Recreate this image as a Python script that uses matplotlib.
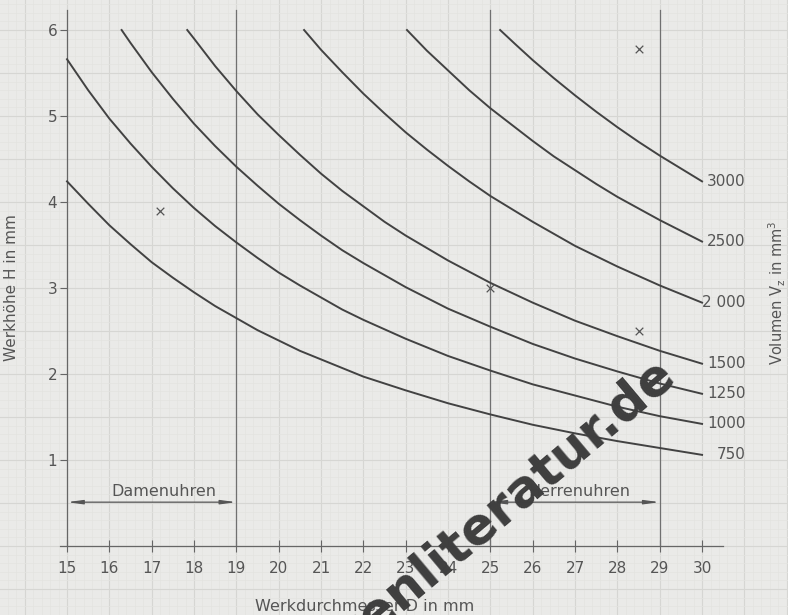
import numpy as np
import matplotlib.pyplot as plt

# ----------------------------
# Data
# ----------------------------
volumes = ["750", "1000", "1250", "1500", "2 000", "2500", "3000"]

d_750 = [15, 15.5, 16, 16.5, 17, 17.5, 18, 18.5, 19, 19.5, 20, 20.5, 21, 21.5, 22, 23, 24, 25, 26, 27, 28, 29, 30]
h_750 = [4.24, 3.98, 3.73, 3.51, 3.30, 3.12, 2.95, 2.79, 2.65, 2.51, 2.39, 2.27, 2.17, 2.07, 1.97,
         1.81, 1.66, 1.53, 1.41, 1.31, 1.22, 1.14, 1.06]

d_1000 = [15, 15.5, 16, 16.5, 17, 17.5, 18, 18.5, 19, 19.5, 20, 20.5, 21, 21.5, 22, 23, 24, 25, 26, 27, 28, 29, 30]
h_1000 = [5.66, 5.30, 4.97, 4.68, 4.41, 4.16, 3.93, 3.72, 3.53, 3.35, 3.18, 3.03, 2.89, 2.75, 2.63,
          2.41, 2.21, 2.04, 1.88, 1.75, 1.62, 1.51, 1.42]

d_1250 = [16.29, 16.5, 17, 17.5, 18, 18.5, 19, 19.5, 20, 20.5, 21, 21.5, 22, 23, 24, 25, 26, 27, 28, 29, 30]
h_1250 = [6.0, 5.85, 5.51, 5.20, 4.91, 4.65, 4.41, 4.19, 3.98, 3.79, 3.61, 3.44, 3.29,
          3.01, 2.76, 2.55, 2.35, 2.18, 2.03, 1.89, 1.77]

d_1500 = [17.84, 18, 18.5, 19, 19.5, 20, 20.5, 21, 21.5, 22, 22.5, 23, 24, 25, 26, 27, 28, 29, 30]
h_1500 = [6.0, 5.90, 5.58, 5.29, 5.02, 4.78, 4.55, 4.33, 4.13, 3.95, 3.77, 3.61,
          3.32, 3.06, 2.83, 2.62, 2.44, 2.27, 2.12]

d_2000 = [20.6, 21, 21.5, 22, 22.5, 23, 23.5, 24, 24.5, 25, 25.5, 26, 27, 28, 29, 30]
h_2000 = [6.0, 5.77, 5.51, 5.26, 5.03, 4.81, 4.61, 4.42, 4.24, 4.07, 3.92, 3.77, 3.49, 3.25, 3.03, 2.83]

d_2500 = [23.03, 23.5, 24, 24.5, 25, 25.5, 26, 26.5, 27, 27.5, 28, 29, 30]
h_2500 = [6.0, 5.76, 5.53, 5.30, 5.09, 4.90, 4.71, 4.53, 4.37, 4.21, 4.06, 3.79, 3.54]

d_3000 = [25.23, 25.6, 26, 26.5, 27, 27.5, 28, 28.5, 29, 29.5, 30]
h_3000 = [6.0, 5.83, 5.65, 5.44, 5.24, 5.05, 4.87, 4.70, 4.54, 4.39, 4.24]

curves = [(d_750, h_750), (d_1000, h_1000), (d_1250, h_1250), (d_1500, h_1500),
          (d_2000, h_2000), (d_2500, h_2500), (d_3000, h_3000)]

# measured samples (crosses)
cross_d = [17.2, 25.0, 28.5, 28.5]
cross_h = [3.9, 3.0, 2.5, 5.78]

x_ticks = list(range(15, 31))
y_ticks = [1, 2, 3, 4, 5, 6]
boundaries = [19, 25, 29]

ink = "#424242"
txt = "#555555"
paper = "#eaeae8"

# ----------------------------
# Figure: axes fill the whole sheet (graph paper)
# ----------------------------
fig = plt.figure(figsize=(7.88, 6.15), dpi=100)
fig.patch.set_facecolor(paper)
ax = fig.add_axes([0, 0, 1, 1])
ax.set_facecolor(paper)

ax.set_xlim(13.417, 32.03)
ax.set_ylim(-0.802, 6.349)

# graph paper
for gx in np.arange(13.4, 32.1, 0.2):
    major = abs(gx - round(gx)) < 1e-6
    ax.axvline(gx, color="#d6d6d3" if major else "#e3e3e0", lw=0.8 if major else 0.5, zorder=0)
for gy in np.arange(-0.8, 6.4, 0.1):
    major = abs(gy * 2 - round(gy * 2)) < 1e-6
    ax.axhline(gy, color="#d6d6d3" if major else "#e3e3e0", lw=0.8 if major else 0.5, zorder=0)

# ----------------------------
# Axes lines / ticks
# ----------------------------
for s in ["top", "right"]:
    ax.spines[s].set_visible(False)
ax.spines["left"].set_position(("data", 15))
ax.spines["bottom"].set_position(("data", 0))
ax.spines["left"].set_bounds(0, 6.23)
ax.spines["bottom"].set_bounds(14.83, 30.5)
for s in ["left", "bottom"]:
    ax.spines[s].set_color("#666666")
    ax.spines[s].set_linewidth(0.9)

ax.set_xticks(x_ticks)
ax.set_yticks(y_ticks)
ax.tick_params(axis="x", direction="inout", length=9, width=0.8, color="#666666",
               labelsize=11, labelcolor=txt, pad=6)
ax.tick_params(axis="y", direction="out", length=5, width=0.8, color="#666666",
               labelsize=11, labelcolor=txt, pad=2)

# boundaries between Damenuhren / Herrenuhren
for b in boundaries:
    ax.plot([b, b], [0, 6.23], color="#707070", lw=0.9, zorder=2)

# ----------------------------
# Volume curves
# ----------------------------
for (d, h), lab in zip(curves, volumes):
    ax.plot(d, h, color=ink, lw=1.4, zorder=3)
    ax.text(31.03, h[-1], lab, ha="right", va="center", fontsize=11, color=txt)

ax.scatter(cross_d, cross_h, marker="x", s=30, color="#555555", linewidths=0.9, zorder=4)

# ----------------------------
# Dimension lines
# ----------------------------
arrow = dict(arrowstyle="<|-|>,head_length=0.9,head_width=0.12", color="#555555",
             lw=0.9, shrinkA=0, shrinkB=0)
ax.annotate("", xy=(15, 0.51), xytext=(19, 0.51), arrowprops=arrow)
ax.annotate("", xy=(25, 0.51), xytext=(29, 0.51), arrowprops=arrow)
ax.text(17.28, 0.55, "Damenuhren", ha="center", va="bottom", fontsize=11.5, color=txt)
ax.text(27.1, 0.55, "Herrenuhren", ha="center", va="bottom", fontsize=11.5, color=txt)

# ----------------------------
# Axis titles
# ----------------------------
ax.text(13.68, 3.0, "Werkhöhe H in mm", rotation=90, ha="center", va="center",
        fontsize=11, color=txt)
ax.text(22.03, -0.70, "Werkdurchmesser D in mm", ha="center", va="center",
        fontsize=11.5, color=txt)
ax.text(31.78, 2.94, "Volumen V$_\\mathregular{z}$ in mm$^\\mathregular{3}$", rotation=90,
        ha="center", va="center", fontsize=10.5, color=txt)

# watermark
ax.text(29.4, 1.95, "uhrenliteratur.de", rotation=40, rotation_mode="anchor",
        ha="right", va="baseline", fontsize=37, fontweight="bold", color="#3e3e3e",
        zorder=6)

plt.savefig("out.png", dpi=100, facecolor=paper)
